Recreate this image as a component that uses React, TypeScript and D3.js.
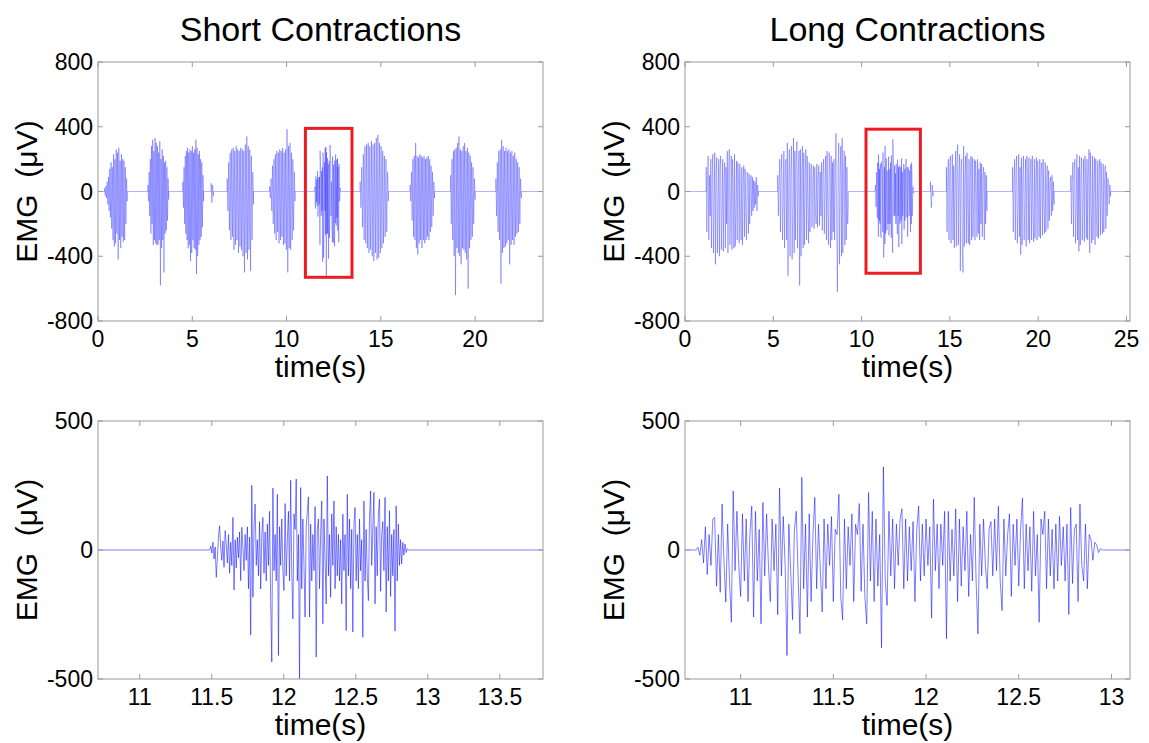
import React from 'react';
import * as d3 from 'd3';

// ---------- tick labels ----------
const topYTicks = [800, 400, 0, -400, -800];
const bottomYTicks = [500, 0, -500];
const shortTopXTicks = [0, 5, 10, 15, 20];
const longTopXTicks = [0, 5, 10, 15, 20, 25];
const shortZoomXTicks = [11, 11.5, 12, 12.5, 13, 13.5];
const longZoomXTicks = [11, 11.5, 12, 12.5, 13];

// ---------- EMG bursts (µV) ----------
// zoomed burst of the short contraction (11.485 s – 12.865 s)
const shortZoomBurst = [
  0, 15, -12, 30, -35, 12, -106, -30, 50, 94, 10, -40, 35,
  -67, 75, 20, -50, 60, -90, 30, -60, 126, -155, 40, -70, 50,
  -30, 70, -119, 88, 10, -80, 60, -40, 90, -150, 50, -329, 251,
  -183, 90, 178, -60, 40, -100, 110, -151, 60, 126, -90, 70, -120,
  100, -60, 150, -200, -434, 240, -80, 60, -120, 216, -409, 90, -60,
  120, -80, -157, 180, -100, 40, 150, -120, 270, -90, -267, 140, 80,
  275, -120, 60, -520, 242, -150, 120, -60, -260, 90, 150, 206, -260,
  100, -120, 60, -80, 168, -415, 80, 120, -150, 60, 190, -286, 120,
  -40, -209, 287, -100, 60, -183, 140, -60, 190, -150, 90, -100, 60,
  -120, 40, -209, 139, -80, 60, -312, 216, -100, 120, -150, 80, -318,
  100, 165, -120, 60, -150, 120, -80, 40, -338, 190, -120, 80, -100,
  -196, 120, 229, -60, 80, 223, -209, 90, -100, 140, 197, -160, 60,
  110, -80, 204, -241, 90, -120, 152, -180, 60, -100, 80, -314, 171,
  -120, 100, -60, 40, -54, 30, -20, 23, -10, 5, 0,
];

// zoomed burst of the long contraction (10.76 s – 12.95 s)
const longZoomBurst = [
  0, 10, -20, 40, -50, 90, -95, 60, -60, 120,
  126, -140, 60, -164, 178, -40, -202, 100, -120, -280,
  229, -80, 150, -60, -180, 140, -120, 120, -200, 60,
  170, -260, 150, -120, 80, -286, 184, -100, 140, -60,
  -200, 120, -80, 100, -251, 240, -100, 130, -60, -409,
  100, -80, -270, 80, 150, -100, -325, 282, -150, 100,
  -260, 140, -200, 60, 204, -150, 100, -80, -240, 120,
  -150, 100, -60, 130, -200, 80, 60, 216, -180, -271,
  120, -150, 90, -60, 140, -200, 100, 60, 180, -160,
  100, -180, -286, 223, -120, 150, -200, 120, -140, 60,
  -379, 322, -120, -215, 150, -100, 120, -150, 100, -60,
  120, 160, -150, 120, -120, 90, -80, 110, -200, 80,
  170, -120, 100, -100, 120, -60, 90, -264, 197, -80,
  100, -150, 100, -60, 150, -344, 150, -120, 80, -100,
  160, -200, 120, -140, 90, -80, 150, -180, 60, -120,
  204, -120, -325, 100, -100, 120, -60, -150, 80, 110,
  -100, 120, -80, 170, -120, -235, 120, -100, 60, 140,
  -180, 100, -60, 120, -140, 80, 201, -150, 100, -80,
  90, -160, 150, -100, 60, -280, 120, 60, 150, -150,
  120, -100, 80, -150, 100, -120, 130, -60, 90, -120,
  100, -250, 165, -130, 80, 100, -200, 178, -60, -120,
  100, -150, 60, 40, -40, 30, 20, -10, 5, 0,
];

// short contractions, full record
const shortB1 = [20, -25, 35, -40, 60, -80, 90, -120, 140, -160, 180, -230, 150, -300, 230, -340, 200, -320, 260, -260, 240, -420, 270, -300, 190, -350, 230, -280, 200, -310, 190, -300, 150, -200, 80, -60];
const shortB2 = [40, -60, 120, -150, 200, -260, 280, -200, 320, -330, 250, -300, 330, -320, 300, -330, 280, -330, 240, -300, 310, -580, 200, -350, 260, -300, 220, -500, 180, -260, 190, -240, 150, -180, 80, -50];
const shortB3 = [60, -100, 150, -200, 220, -260, 250, -300, 270, -350, 240, -330, 260, -430, 250, -380, 280, -300, 240, -350, 260, -360, 320, -510, 270, -400, 230, -330, 250, -300, 200, -280, 180, -220, 100, -60];
const shortB3Tail = [50, -70, 40, -30];
const shortB4 = [80, -120, 180, -240, 240, -300, 260, -280, 270, -360, 250, -330, 280, -300, 260, -380, 250, -340, 270, -360, 260, -400, 250, -500, 290, -380, 340, -420, 280, -360, 260, -490, 220, -300, 120, -80];
const shortB5 = [30, -40, 80, -120, 160, -200, 200, -260, 230, -300, 250, -250, 240, -320, 260, -300, 250, -280, 270, -330, 240, -320, 260, -360, 385, -500, 280, -350, 300, -360, 240, -300, 200, -240, 120, -60];
const shortB7 = [60, -100, 150, -220, 230, -300, 280, -320, 290, -350, 300, -380, 280, -360, 310, -400, 290, -430, 300, -380, 330, -420, 350, -410, 300, -380, 280, -350, 250, -320, 220, -280, 200, -250, 120, -60];
const shortB8 = [40, -60, 120, -180, 200, -280, 220, -300, 300, -350, 220, -390, 210, -320, 230, -300, 220, -350, 210, -300, 220, -320, 200, -300, 210, -280, 220, -300, 200, -250, 160, -220, 120, -150, 60, -40];
const shortB9 = [100, -200, 200, -300, 250, -400, 260, -640, 270, -350, 300, -380, 340, -400, 260, -450, 250, -350, 280, -360, 300, -380, 250, -420, 270, -600, 240, -350, 220, -300, 180, -280, 150, -200, 80, -50];
const shortB10 = [80, -150, 180, -250, 250, -300, 260, -570, 320, -380, 280, -350, 250, -340, 270, -320, 250, -300, 260, -450, 240, -330, 250, -300, 220, -330, 240, -280, 200, -260, 180, -250, 150, -200, 80, -40];

// long contractions, full record
const longB1 = [
  150, -250, 60, 220, -300, 100, -150, 200, -350, 80, 230, -380, -100,
  240, -450, 120, 210, -380, -60, 200, -400, 140, 220, -360, -120, 200,
  -370, 90, 180, -350, 150, -200, 250, -380, 100, 260, -330, -80, 220,
  -360, 200, 60, -350, 230, -340, -100, 190, -300, 180, 80, -320, 170, -150,
  -300, 150, -330, 60, 160, -280, 140, -120, -300, 120, 100, -260, 110, -200,
  60, 100, -150, 90, -120, 70, -100, 60, -80, 90, -120, 40, -30,
];
const longB2 = [
  100, -150, 60, 200, -250, 120, 230, -300, -80, 250, -350, 150, 200,
  -300, 300, -520, 80, 260, -400, 120, 280, -420, -100, 330, -380, 250,
  -300, 200, 310, -350, 100, 250, -580, 260, -400, 120, 280, -350, 240,
  -330, 80, 260, -300, 220, -100, -320, 180, -250, 100, 170, -220, 60,
  160, -230, 150, -120, -200, 170, -220, 80, 160, -210, 120, -150, 180,
  -240, 100, 200, -260, 60, 220, -300, 250, -120, -330, 240, 140, -350,
  220, -300, 180, -250, 200, -300, 100, 360, -200, -620, 150, 300, -450,
  100, 280, -400, 330, -380, 120, 250, -330, 220, -300, 150, -200, -100,
];
const longBlip = [60, -100, 40, -30];
const longB4 = [
  150, -250, 80, 200, -300, 120, 220, -320, -60, 230,
  -300, 160, -350, 100, 250, -340, 180, 290, -330, 100,
  230, -490, 120, 200, -360, -500, 280, -340, 100, 220,
  -320, 240, -120, -320, 200, -330, 80, 220, -300, 210,
  -280, -100, 200, -300, 190, 60, -280, 200, -260, 140,
  -300, 180, -200, 170, -280, 100, 150, -300, 120, -200,
  100, -120,
];
const longB5 = [
  150, -250, 60, 200, -300, 120, 220, -320, -80, 230,
  -280, 150, -390, 210, -330, 100, 220, -300, -60, 200,
  -340, 220, 120, -300, 210, -320, 80, 200, -300, 220,
  -150, -310, 200, -290, 100, 210, -300, 190, -60, -280,
  200, -290, 140, 180, -270, 200, -100, -260, 180, -250,
  80, 160, -230, 130, -180, 60, 90, -150, 100, -120,
  60, -80,
];
const longB6 = [
  100, -200, 60, 180, -280, 120, 200, -320, -80, 230,
  -300, 150, -370, 220, -330, 100, 210, -300, -60, 200,
  -310, 220, 80, -290, 200, -300, 120, 260, -380, 240,
  -100, -320, 220, -300, 60, 210, -330, 200, -150, -280,
  190, -290, 120, 200, -270, 180, -80, -260, 170, -250,
  60, 160, -230, 120, -150, 80, 60, -80, 40, -30,
];

type Burst = { start: number; end: number; values: number[]; bin?: number };

const shortBursts: Burst[] = [
  { start: 0.35, end: 1.55, values: shortB1 },
  { start: 2.65, end: 3.75, values: shortB2 },
  { start: 4.5, end: 5.6, values: shortB3 },
  { start: 6.0, end: 6.12, values: shortB3Tail },
  { start: 6.85, end: 8.25, values: shortB4 },
  { start: 9.1, end: 10.45, values: shortB5 },
  { start: 11.485, end: 12.865, values: shortZoomBurst, bin: 5 },
  { start: 13.9, end: 15.4, values: shortB7 },
  { start: 16.55, end: 17.85, values: shortB8 },
  { start: 18.7, end: 20.0, values: shortB9 },
  { start: 21.1, end: 22.45, values: shortB10 },
];

const longBursts: Burst[] = [
  { start: 1.2, end: 4.15, values: longB1 },
  { start: 5.25, end: 9.25, values: longB2 },
  { start: 10.76, end: 12.95, values: longZoomBurst, bin: 5 },
  { start: 13.9, end: 14.05, values: longBlip },
  { start: 14.8, end: 17.1, values: longB4 },
  { start: 18.55, end: 20.9, values: longB5 },
  { start: 21.85, end: 24.1, values: longB6 },
];

const shortZoomBursts: Burst[] = [{ start: 11.485, end: 12.865, values: shortZoomBurst }];
const longZoomBursts: Burst[] = [{ start: 10.76, end: 12.95, values: longZoomBurst }];

// highlighted regions [t0, t1, vLow, vHigh]
const shortBox = [11.0, 13.47, -530, 390];
const longBox = [10.25, 13.33, -505, 385];

// samples with their times; in the overview plots, dense bursts are reduced
// to min/max pairs per bin (like a screen renderer would)
function burstPoints(b: Burst): [number, number][] {
  const n = b.values.length;
  const dt = (b.end - b.start) / (n - 1);
  const samples: [number, number][] = b.values.map((v, i) => [b.start + i * dt, v]);
  if (!b.bin) return samples;
  const out: [number, number][] = [];
  for (let i = 0; i < n; i += b.bin) {
    const chunk = samples.slice(i, i + b.bin);
    const lo = chunk.reduce((a, c) => (c[1] < a[1] ? c : a));
    const hi = chunk.reduce((a, c) => (c[1] > a[1] ? c : a));
    if (lo[0] <= hi[0]) out.push(lo, hi);
    else out.push(hi, lo);
  }
  return out;
}

function buildSeries(domain: [number, number], bursts: Burst[]): [number, number][] {
  const pts: [number, number][] = [[domain[0], 0]];
  for (const b of bursts) {
    pts.push([b.start, 0]);
    burstPoints(b).forEach((p) => pts.push(p));
    pts.push([b.end, 0]);
  }
  pts.push([domain[1], 0]);
  return pts;
}

const FONT = "'Liberation Sans', Arial, Helvetica, sans-serif";
const AXIS_COLOR = '#9a9a9a';

type PanelProps = {
  id: string;
  left: number;
  top: number;
  width: number;
  height: number;
  xDomain: [number, number];
  yDomain: [number, number];
  xTicks: number[];
  yTicks: number[];
  bursts: Burst[];
  title?: string;
  box?: number[];
  lineWidth: number;
  lineOpacity: number;
};

function Panel(p: PanelProps) {
  const x = d3.scaleLinear().domain(p.xDomain).range([p.left, p.left + p.width]);
  const y = d3.scaleLinear().domain(p.yDomain).range([p.top + p.height, p.top]);
  const series = buildSeries(p.xDomain, p.bursts);
  const line = d3
    .line<[number, number]>()
    .x((d) => x(d[0]))
    .y((d) => y(d[1]));
  const tl = 5;
  const right = p.left + p.width;
  const bottom = p.top + p.height;
  return (
    <g>
      <defs>
        <clipPath id={p.id}>
          <rect x={p.left} y={p.top} width={p.width} height={p.height} />
        </clipPath>
      </defs>
      {p.title && (
        <text x={p.left + p.width / 2} y={41} textAnchor="middle" fontSize={34} fontFamily={FONT} fill="#000">
          {p.title}
        </text>
      )}
      <g clipPath={`url(#${p.id})`}>
        <path
          d={line(series) || ''}
          fill="none"
          stroke="#0000ff"
          strokeOpacity={p.lineOpacity}
          strokeWidth={p.lineWidth}
        />
      </g>
      <rect x={p.left} y={p.top} width={p.width} height={p.height} fill="none" stroke={AXIS_COLOR} strokeWidth={1} />
      {p.xTicks.map((t) => (
        <g key={'x' + t}>
          <line x1={x(t)} x2={x(t)} y1={bottom} y2={bottom - tl} stroke={AXIS_COLOR} />
          <line x1={x(t)} x2={x(t)} y1={p.top} y2={p.top + tl} stroke={AXIS_COLOR} />
          <text x={x(t)} y={bottom + 26} textAnchor="middle" fontSize={23} fontFamily={FONT} fill="#000">
            {String(t)}
          </text>
        </g>
      ))}
      {p.yTicks.map((t) => (
        <g key={'y' + t}>
          <line x1={p.left} x2={p.left + tl} y1={y(t)} y2={y(t)} stroke={AXIS_COLOR} />
          <line x1={right} x2={right - tl} y1={y(t)} y2={y(t)} stroke={AXIS_COLOR} />
          <text x={p.left - 5} y={y(t)} dy="0.35em" textAnchor="end" fontSize={23} fontFamily={FONT} fill="#000">
            {String(t)}
          </text>
        </g>
      ))}
      {p.box && (
        <rect
          x={x(p.box[0])}
          y={y(p.box[3])}
          width={x(p.box[1]) - x(p.box[0])}
          height={y(p.box[2]) - y(p.box[3])}
          fill="none"
          stroke="#ec1c24"
          strokeWidth={3}
        />
      )}
      <text x={p.left + p.width / 2} y={bottom + 56} textAnchor="middle" fontSize={30} fontFamily={FONT} fill="#000">
        time(s)
      </text>
      <text
        transform={`translate(${p.left - 61},${p.top + p.height / 2}) rotate(-90)`}
        textAnchor="middle"
        fontSize={30}
        fontFamily={FONT}
        fill="#000"
        style={{ whiteSpace: 'pre' }}
      >
        {'EMG  (μV)'}
      </text>
    </g>
  );
}

export default function App() {
  return (
    <svg
      width={1149}
      height={743}
      viewBox="0 0 1149 743"
      style={{ position: 'absolute', left: 0, top: 0, background: '#fff' }}
    >
      <rect x={0} y={0} width={1149} height={743} fill="#fff" />
      <Panel
        id="c1"
        left={98}
        top={62}
        width={445}
        height={259}
        xDomain={[0, 23.6]}
        yDomain={[-800, 800]}
        xTicks={shortTopXTicks}
        yTicks={topYTicks}
        bursts={shortBursts}
        title="Short Contractions"
        box={shortBox}
        lineWidth={0.5}
        lineOpacity={0.6}
      />
      <Panel
        id="c2"
        left={685}
        top={62}
        width={445}
        height={259}
        xDomain={[0, 25.2]}
        yDomain={[-800, 800]}
        xTicks={longTopXTicks}
        yTicks={topYTicks}
        bursts={longBursts}
        title="Long Contractions"
        box={longBox}
        lineWidth={0.5}
        lineOpacity={0.6}
      />
      <Panel
        id="c3"
        left={98}
        top={421}
        width={445}
        height={258}
        xDomain={[10.71, 13.8]}
        yDomain={[-500, 500]}
        xTicks={shortZoomXTicks}
        yTicks={bottomYTicks}
        bursts={shortZoomBursts}
        lineWidth={0.6}
        lineOpacity={0.85}
      />
      <Panel
        id="c4"
        left={685}
        top={421}
        width={445}
        height={258}
        xDomain={[10.7, 13.1]}
        yDomain={[-500, 500]}
        xTicks={longZoomXTicks}
        yTicks={bottomYTicks}
        bursts={longZoomBursts}
        lineWidth={0.6}
        lineOpacity={0.85}
      />
    </svg>
  );
}
